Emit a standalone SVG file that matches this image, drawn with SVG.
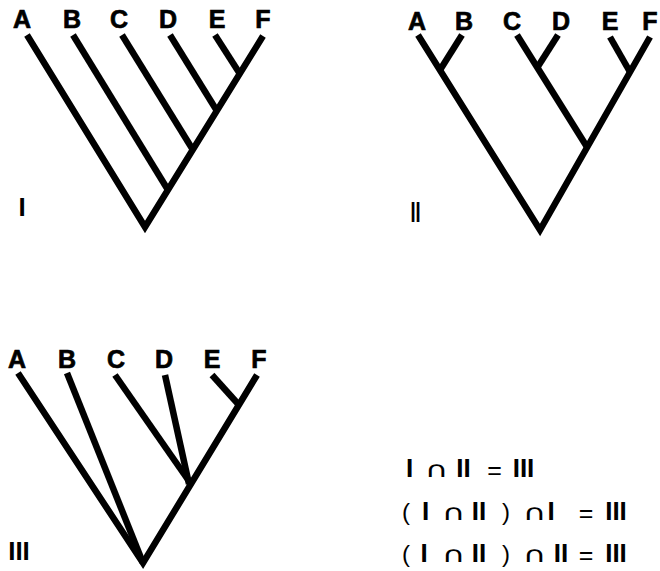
<svg xmlns="http://www.w3.org/2000/svg" width="660" height="571" viewBox="0 0 660 571">
<style>
.e{fill:none;stroke:#000;stroke-width:6.5;stroke-linecap:butt;stroke-linejoin:miter;stroke-miterlimit:10}
.t{font-family:"Liberation Sans",Arial,sans-serif;font-weight:bold;font-size:25px;text-anchor:middle;fill:#000;stroke:#000;stroke-width:0.7}
.r{font-family:"Liberation Sans",Arial,sans-serif;font-weight:bold;font-size:26px;text-anchor:middle;fill:#000}
.s{font-family:"DejaVu Sans",sans-serif;font-size:22px;text-anchor:middle;fill:#000}
.p{font-family:"Liberation Sans",Arial,sans-serif;font-size:24px;text-anchor:middle;fill:#000}
.q{font-family:"Liberation Sans",Arial,sans-serif;font-size:25px;text-anchor:middle;fill:#000}
</style>
<rect width="660" height="571" fill="#fff"/>
<g id="connectors">
  <g id="edges-I">
    <path class="e" d="M27,35 L145,227 L263,36"/>
    <path class="e" d="M73,35 L168,190"/>
    <path class="e" d="M122,35 L193,150"/>
    <path class="e" d="M170,35 L217,111"/>
    <path class="e" d="M215,35 L240,74"/>
  </g>
  <g id="edges-II">
    <path class="e" d="M418,35 L540,230 L650,37"/>
    <path class="e" d="M462,35 L440,70"/>
    <path class="e" d="M517,35 L587,147"/>
    <path class="e" d="M558,35 L537,68"/>
    <path class="e" d="M610,37 L630,72"/>
  </g>
  <g id="edges-III">
    <path class="e" d="M18,373 L143,563 L257,375"/>
    <path class="e" d="M67,373 L143,563"/>
    <path class="e" d="M115,375 L191,484"/>
    <path class="e" d="M165,375 L189,484"/>
    <path class="e" d="M212,375 L239,405"/>
  </g>
</g>
<g id="tree-I">
  <text class="t" x="22" y="28">A</text>
  <text class="t" x="72" y="28">B</text>
  <text class="t" x="119" y="28">C</text>
  <text class="t" x="168" y="28">D</text>
  <text class="t" x="217" y="28">E</text>
  <text class="t" x="263" y="28">F</text>
  <text class="r" x="22" y="216">I</text>
</g>
<g id="tree-II">
  <text class="t" x="417" y="30">A</text>
  <text class="t" x="464" y="30">B</text>
  <text class="t" x="512" y="30">C</text>
  <text class="t" x="561" y="30">D</text>
  <text class="t" x="610" y="30">E</text>
  <text class="t" x="650" y="30">F</text>
  <text class="r" transform="translate(415.5,222) scale(0.7,1.15)" x="0" y="0">II</text>
</g>
<g id="tree-III">
  <text class="t" x="17" y="368">A</text>
  <text class="t" x="67" y="368">B</text>
  <text class="t" x="116" y="368">C</text>
  <text class="t" x="164" y="368">D</text>
  <text class="t" x="212" y="368">E</text>
  <text class="t" x="259" y="368">F</text>
  <text class="r" x="19" y="560">III</text>
</g>
<g id="equations">
  <text class="r" x="409.5" y="477">I</text>
  <text class="s" transform="translate(436.5,477) scale(1.5,1)" x="0" y="0">∩</text>
  <text class="r" x="463.5" y="477">II</text>
  <text class="q" x="494.5" y="479">=</text>
  <text class="r" x="523.5" y="477">III</text>

  <text class="p" x="406" y="520">(</text>
  <text class="r" x="425.5" y="520">I</text>
  <text class="s" transform="translate(453.5,520) scale(1.5,1)" x="0" y="0">∩</text>
  <text class="r" x="479" y="520">II</text>
  <text class="p" x="506" y="520">)</text>
  <text class="s" transform="translate(534.5,520) scale(1.5,1)" x="0" y="0">∩</text>
  <text class="r" x="551" y="520">I</text>
  <text class="q" x="586" y="522">=</text>
  <text class="r" x="616" y="520">III</text>

  <text class="p" x="406" y="562">(</text>
  <text class="r" x="424" y="562">I</text>
  <text class="s" transform="translate(453.5,562) scale(1.5,1)" x="0" y="0">∩</text>
  <text class="r" x="479" y="562">II</text>
  <text class="p" x="506" y="562">)</text>
  <text class="s" transform="translate(534.5,562) scale(1.5,1)" x="0" y="0">∩</text>
  <text class="r" x="561" y="562">II</text>
  <text class="q" x="586" y="564">=</text>
  <text class="r" x="616" y="562">III</text>
</g>
</svg>
